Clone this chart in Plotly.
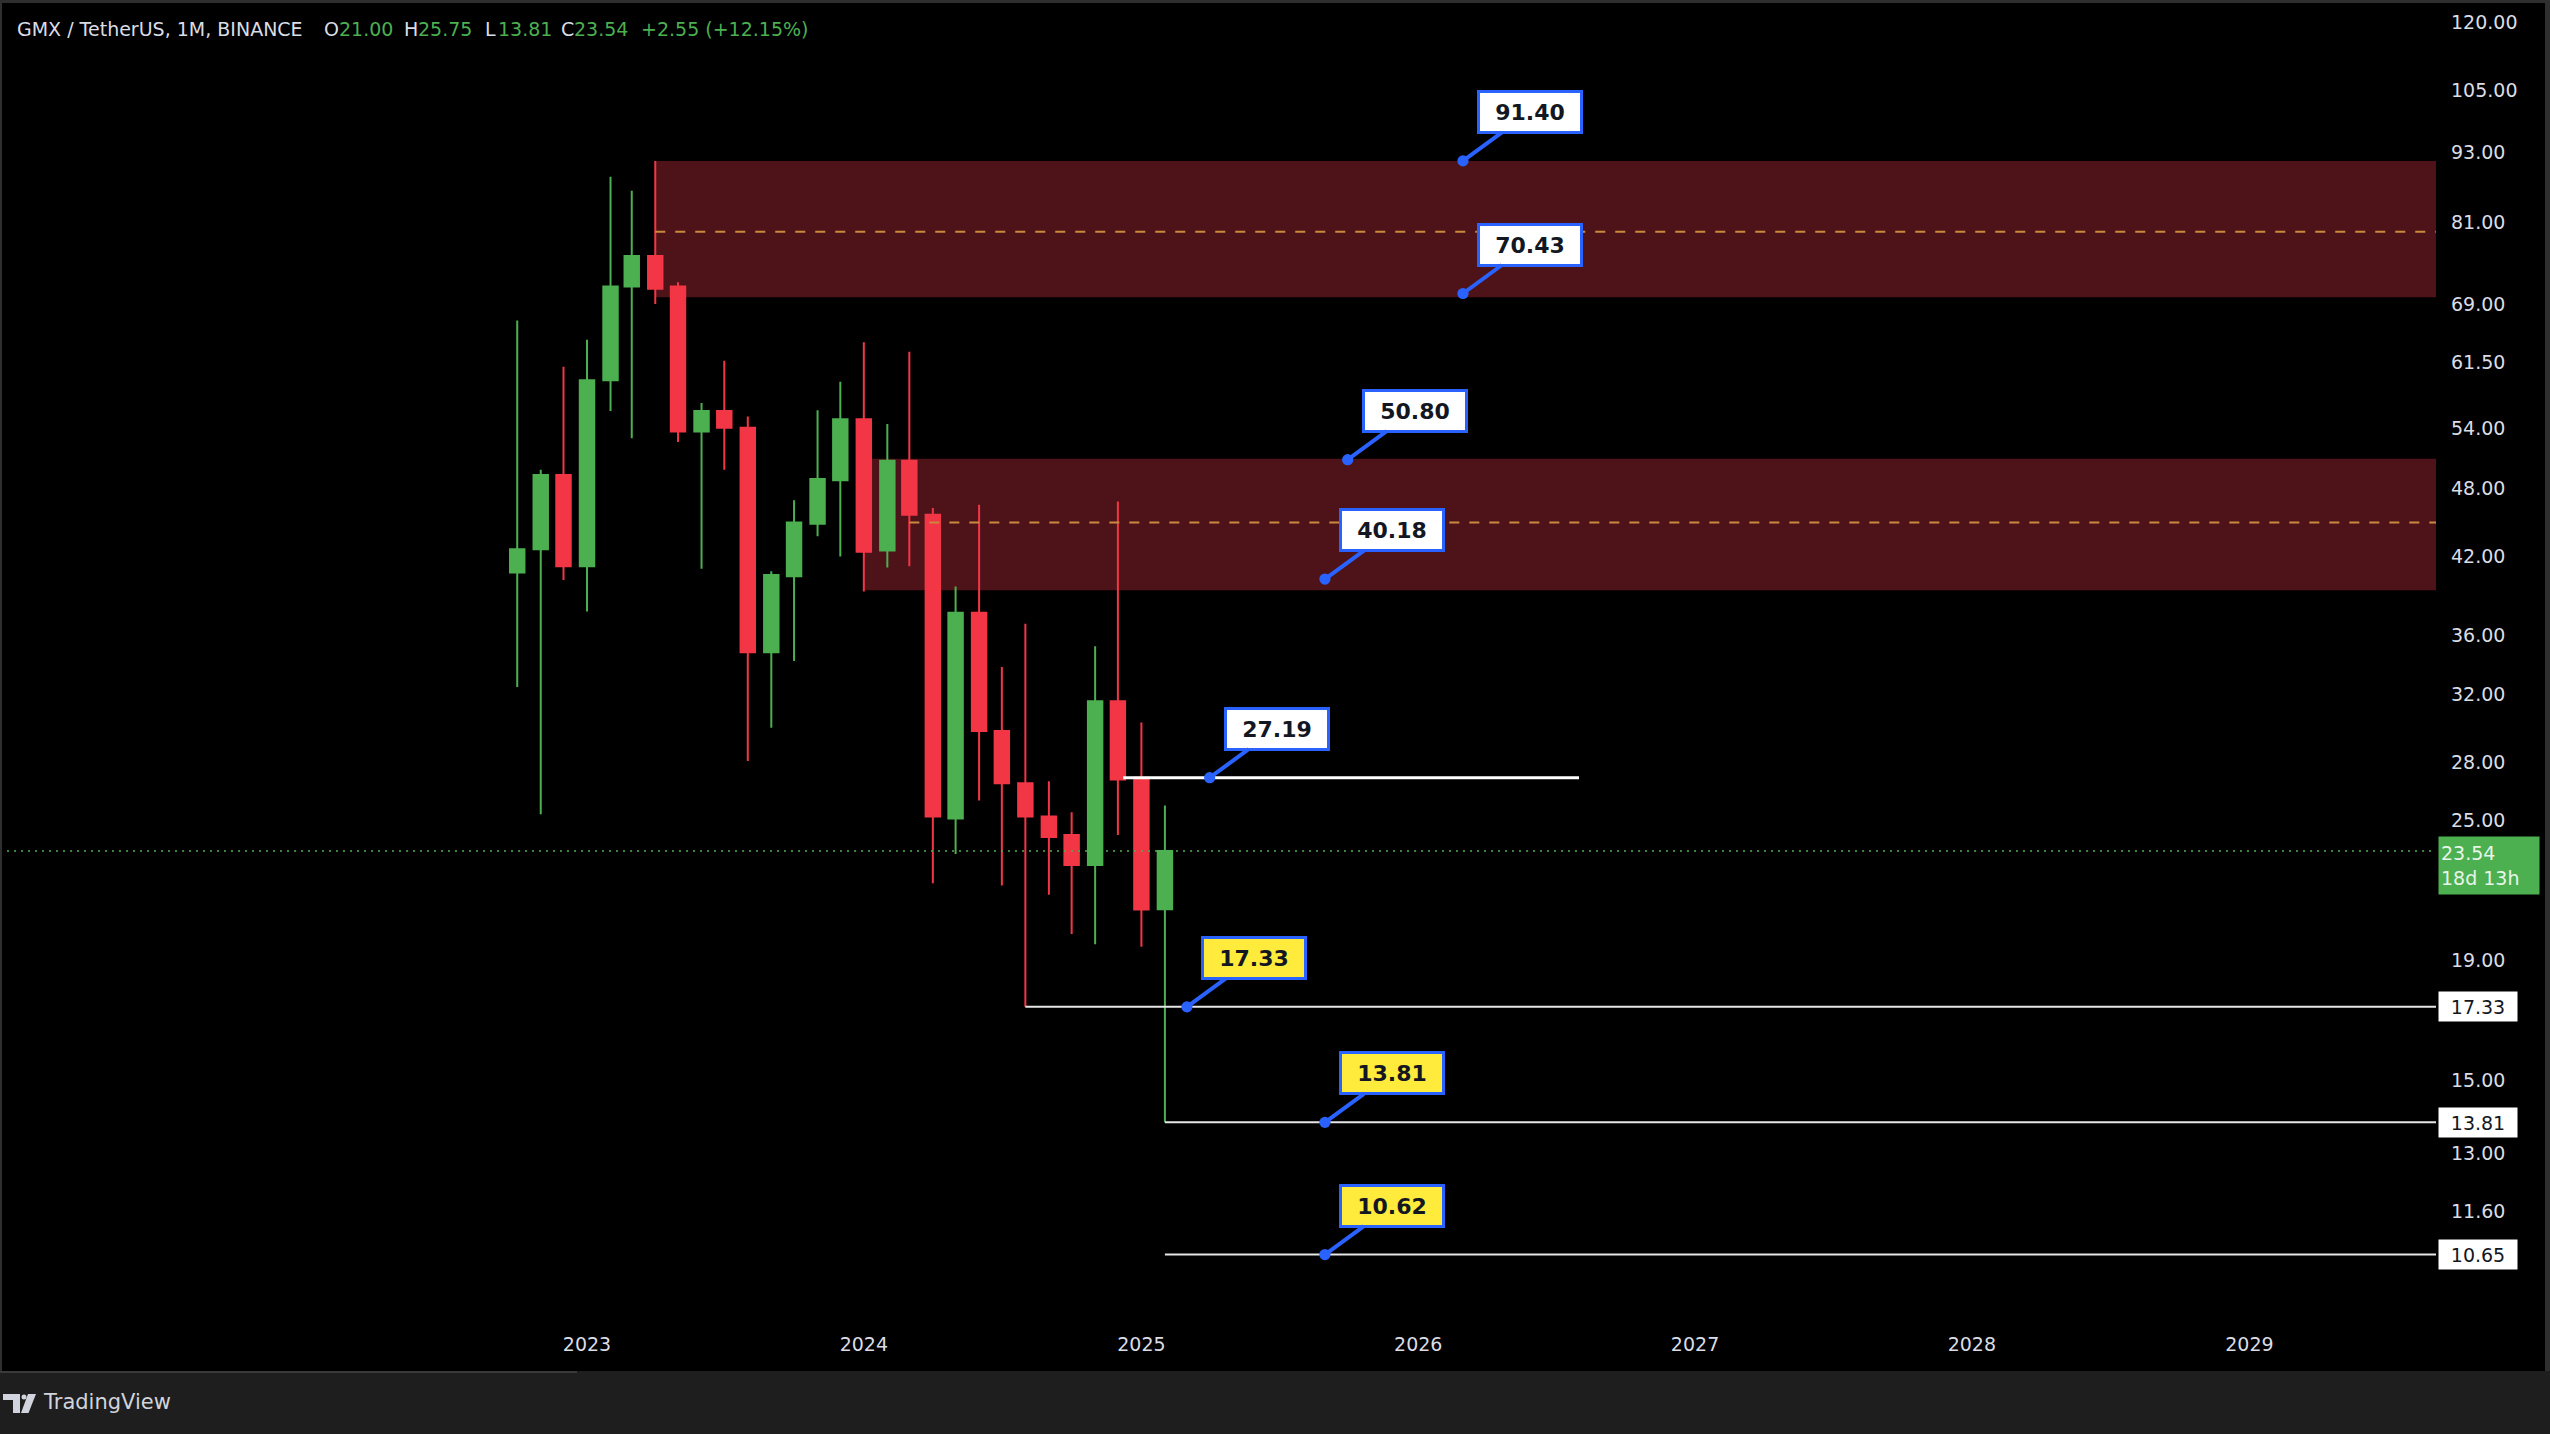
import numpy as np
import pandas as pd
import plotly.graph_objects as go

# ---------------- data ----------------
months = ['2022-10-01', '2022-11-01', '2022-12-01', '2023-01-01', '2023-02-01', '2023-03-01',
          '2023-04-01', '2023-05-01', '2023-06-01', '2023-07-01', '2023-08-01', '2023-09-01',
          '2023-10-01', '2023-11-01', '2023-12-01', '2024-01-01', '2024-02-01', '2024-03-01',
          '2024-04-01', '2024-05-01', '2024-06-01', '2024-07-01', '2024-08-01', '2024-09-01',
          '2024-10-01', '2024-11-01', '2024-12-01', '2025-01-01', '2025-02-01']
opens = [40.7, 42.6, 49.3, 41.2, 59.4, 71.4, 75.8, 71.4, 53.7, 55.9, 54.1, 34.8, 40.4, 44.8, 48.8,
         55.0, 42.5, 50.7, 45.6, 25.1, 37.6, 29.8, 26.9, 25.2, 24.3, 22.9, 31.6, 27.19, 21.00]
highs = [66.8, 49.8, 61.0, 64.3, 88.6, 86.2, 91.40, 72.0, 56.8, 61.7, 55.3, 40.8, 46.9, 56.0, 59.2,
         64.0, 54.5, 62.8, 46.2, 39.6, 46.5, 33.8, 36.8, 27.0, 25.4, 35.2, 46.8, 30.3, 25.75]
lows = [32.5, 25.3, 40.1, 37.7, 55.9, 53.0, 69.0, 52.6, 41.0, 49.8, 28.1, 30.0, 34.2, 43.7, 42.0,
        39.2, 41.1, 41.2, 22.1, 23.4, 26.0, 22.0, 17.33, 21.6, 20.0, 19.6, 24.3, 19.5, 13.81]
closes = [42.6, 49.3, 41.2, 59.4, 71.4, 75.8, 71.1, 53.7, 55.9, 54.1, 34.8, 40.5, 44.9, 48.9, 55.0,
          42.4, 50.7, 45.6, 25.2, 37.6, 29.8, 26.9, 25.2, 24.2, 22.9, 31.6, 27.1, 20.99, 23.54]

# supply zones
zone_starts = ['2023-04-01', '2024-01-01']
zone_tops = [91.40, 50.9]
zone_bottoms = [69.9, 39.3]
zone_mids = [79.5, 44.9]
zone_mid_starts = ['2023-04-01', '2024-03-01']

# horizontal levels
level_values = [17.33, 13.81, 10.65]
level_starts = ['2024-08-01', '2025-02-01', '2025-02-01']
level_labels = ['17.33', '13.81', '10.65']
target_value = 27.19
target_span = ['2024-12-08', '2026-08-01']

# callouts
callout_texts = ['91.40', '70.43', '50.80', '40.18', '27.19', '17.33', '13.81', '10.62']
callout_prices = [91.40, 70.43, 50.80, 40.18, 27.19, 17.33, 13.81, 10.65]
callout_dates = ['2026-03-01', '2026-03-01', '2025-09-30', '2025-08-31', '2025-04-01',
                 '2025-03-02', '2025-08-31', '2025-08-31']
callout_fills = ['#ffffff'] * 5 + ['#ffeb3b'] * 3

last_price = 23.54
countdown = '18d 13h'

year_ticks = ['2023-01-01', '2024-01-01', '2025-01-01', '2026-01-01', '2027-01-01', '2028-01-01', '2029-01-01']
year_labels = ['2023', '2024', '2025', '2026', '2027', '2028', '2029']
price_ticks = [120, 105, 93, 81, 69, 61.5, 54, 48, 42, 36, 32, 28, 25, 19, 15, 13, 11.6]
price_tick_labels = ['%.2f' % v for v in price_ticks]

# ---------------- layout constants ----------------
W, H = 2550, 1434
PLOT_R = 2436
PLOT_B = 1317
x_range = ['2020-11-18', '2029-09-04']
y_range = [np.log10(9.42), np.log10(125.4)]

GREEN = '#4caf50'
RED = '#f23645'
ZONE = '#4e1319'
MID = '#c98a3e'
BLUE = '#2962ff'
TXT = '#dadde5'
FONT = 'DejaVu Sans'


def px(xp):
    return xp / PLOT_R


def py(yp):
    return (PLOT_B - yp) / PLOT_B


fig = go.Figure()

# zones as bars (drawn below the candles)
z_start = pd.to_datetime(zone_starts)
z_end = pd.Timestamp(x_range[1])
z_centers = [s + (z_end - s) / 2 for s in z_start]
z_widths = [(z_end - s).total_seconds() * 1000 for s in z_start]
fig.add_trace(go.Bar(x=z_centers, y=[t - b for t, b in zip(zone_tops, zone_bottoms)],
                     base=zone_bottoms, width=z_widths, marker=dict(color=ZONE, line=dict(width=0)),
                     hoverinfo='skip'))

# candles
fig.add_trace(go.Candlestick(
    x=months, open=opens, high=highs, low=lows, close=closes,
    increasing=dict(line=dict(color=GREEN, width=2), fillcolor=GREEN),
    decreasing=dict(line=dict(color=RED, width=2), fillcolor=RED),
    whiskerwidth=0, hoverinfo='skip'))

for s, m in zip(zone_mid_starts, zone_mids):
    fig.add_trace(go.Scatter(x=[s, x_range[1]], y=[m, m], mode='lines',
                             line=dict(color=MID, width=2, dash='10px,10px'), hoverinfo='skip'))

# current price dotted line
fig.add_trace(go.Scatter(x=x_range, y=[last_price, last_price], mode='lines',
                         line=dict(color=GREEN, width=1.5, dash='2px,5px'), hoverinfo='skip'))

# level lines
for s, v in zip(level_starts, level_values):
    fig.add_trace(go.Scatter(x=[s, x_range[1]], y=[v, v], mode='lines',
                             line=dict(color='#e6e6e6', width=2), hoverinfo='skip'))
fig.add_trace(go.Scatter(x=target_span, y=[target_value, target_value], mode='lines',
                         line=dict(color='#ffffff', width=3), hoverinfo='skip'))

# callouts
for txt, pv, d, fill in zip(callout_texts, callout_prices, callout_dates, callout_fills):
    fig.add_annotation(x=d, y=np.log10(pv), xref='x', yref='y', text='<b>%s</b>' % txt,
                       showarrow=True, ax=67, ay=-49, arrowcolor=BLUE, arrowwidth=4,
                       arrowhead=6, arrowsize=0.7, standoff=0, startstandoff=0,
                       bgcolor=fill, bordercolor=BLUE, borderwidth=3, borderpad=2,
                       width=96, height=34,
                       font=dict(family=FONT, size=22, color='#131722'))

# price-axis labels for levels
for v, lab in zip(level_values, level_labels):
    fig.add_annotation(x=px(2438), y=np.log10(v), xref='paper', yref='y', text=lab,
                       showarrow=False, xanchor='left', yanchor='middle',
                       bgcolor='#ffffff', borderpad=2, width=74, height=25,
                       font=dict(family=FONT, size=19, color='#131722'))

# last price label
fig.add_annotation(x=px(2438), y=np.log10(last_price), xref='paper', yref='y',
                   text='%.2f<br>%s' % (last_price, countdown), showarrow=False,
                   xanchor='left', yanchor='middle', yshift=-14, align='left',
                   bgcolor=GREEN, borderpad=2, width=96, height=53,
                   font=dict(family=FONT, size=19, color='#e8f5e9'))

# header
header = [('GMX / TetherUS, 1M, BINANCE', 15, TXT),
          ('O', 322, TXT), ('%.2f' % opens[-1], 337, GREEN),
          ('H', 402, TXT), ('%.2f' % highs[-1], 416, GREEN),
          ('L', 483, TXT), ('%.2f' % lows[-1], 496, GREEN),
          ('C', 559, TXT), ('%.2f' % closes[-1], 572, GREEN),
          ('+%.2f (+%.2f%%)' % (closes[-1] - closes[-2], (closes[-1] - closes[-2]) / closes[-2] * 100), 639, GREEN)]
for txt, xp, col in header:
    fig.add_annotation(x=px(xp), y=py(29), xref='paper', yref='paper', text=txt,
                       showarrow=False, xanchor='left', yanchor='middle',
                       font=dict(family=FONT, size=19, color=col))

# footer & borders
shapes = [
    dict(type='rect', xref='paper', yref='paper', x0=px(0), x1=px(W), y0=py(H), y1=py(1371),
         fillcolor='#1e1e1e', line=dict(width=0), layer='below'),
    dict(type='rect', xref='paper', yref='paper', x0=px(0), x1=px(W), y0=py(3), y1=py(0),
         fillcolor='#2f2f2f', line=dict(width=0), layer='above'),
    dict(type='rect', xref='paper', yref='paper', x0=px(0), x1=px(2), y0=py(1371), y1=py(0),
         fillcolor='#2f2f2f', line=dict(width=0), layer='above'),
    dict(type='rect', xref='paper', yref='paper', x0=px(2545), x1=px(W), y0=py(1371), y1=py(0),
         fillcolor='#2f2f2f', line=dict(width=0), layer='above'),
    dict(type='rect', xref='paper', yref='paper', x0=px(0), x1=px(577), y0=py(1373), y1=py(1371),
         fillcolor='#3a3a3a', line=dict(width=0), layer='above'),
]
# TradingView logo
logo_col = '#d1d4dc'
shapes.append(dict(type='rect', xref='paper', yref='paper', x0=px(3), x1=px(20), y0=py(1400), y1=py(1394),
                   fillcolor=logo_col, line=dict(width=0)))
shapes.append(dict(type='rect', xref='paper', yref='paper', x0=px(13), x1=px(20), y0=py(1413), y1=py(1394),
                   fillcolor=logo_col, line=dict(width=0)))
shapes.append(dict(type='circle', xref='paper', yref='paper', x0=px(21.5), x1=px(26.5), y0=py(1399.5), y1=py(1394.5),
                   fillcolor=logo_col, line=dict(width=0)))
pts = [(28, 1394), (36, 1394), (28.5, 1413), (21, 1413)]
path = 'M ' + ' L '.join('%f,%f' % (px(a), py(b)) for a, b in pts) + ' Z'
shapes.append(dict(type='path', xref='paper', yref='paper', path=path, fillcolor=logo_col, line=dict(width=0)))

fig.add_annotation(x=px(41), y=py(1402), xref='paper', yref='paper', text='TradingView',
                   showarrow=False, xanchor='left', yanchor='middle',
                   font=dict(family=FONT, size=21, color=logo_col))

fig.update_layout(
    width=W, height=H,
    margin=dict(l=0, r=W - PLOT_R, t=0, b=H - PLOT_B, autoexpand=False),
    paper_bgcolor='#000000', plot_bgcolor='#000000',
    showlegend=False, hovermode=False,
    boxgap=0.32, boxgroupgap=0, barmode='overlay',
    shapes=shapes,
    xaxis=dict(type='date', range=x_range, showgrid=False, zeroline=False, showline=False,
               tickvals=year_ticks, ticktext=year_labels, ticks='', ticklabelstandoff=14,
               tickfont=dict(family=FONT, size=19, color=TXT),
               rangeslider=dict(visible=False), fixedrange=True),
    yaxis=dict(type='log', range=y_range, side='right', showgrid=False, zeroline=False,
               showline=False, tickvals=price_ticks, ticktext=price_tick_labels, ticks='',
               ticklabelstandoff=14, tickfont=dict(family=FONT, size=19, color=TXT),
               fixedrange=True),
)

fig.write_html('out.html', config={'displayModeBar': False},
               post_script="document.body.style.margin='0px';document.body.style.background='#000';")
